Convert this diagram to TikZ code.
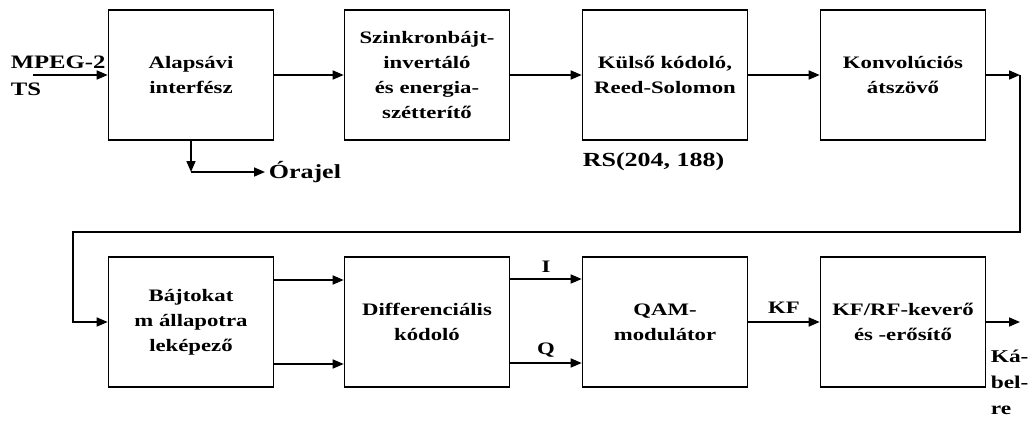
\documentclass[tikz,border=0pt]{standalone}
\usepackage{fontspec}
\setmainfont{Liberation Serif}[FakeStretch=1.3]
\usetikzlibrary{arrows.meta,positioning,calc}

\begin{document}
\begin{tikzpicture}[x=1pt,y=-1pt,line width=1.6pt,
  font=\fontsize{17.5}{25}\selectfont\bfseries,
  blk/.style={draw,minimum width=165pt,minimum height=130pt,align=center,inner sep=2pt},
  lbl/.style={inner sep=0pt,font=\fontsize{20}{25}\selectfont\bfseries},
  arr/.style={-{Triangle[length=11pt,width=9pt]}}]
  \useasboundingbox (0,0) rectangle (1029,421);
  % top row, left to right
  \node[blk] (ifc)  at (191,75)  {Alapsávi\\interfész};
  \node[blk] (inv)  at (427,75)  {Szinkronbájt-\\invertáló\\és energia-\\szétterítő};
  \node[blk] (rs)   at (665,75)  {Külső kódoló,\\Reed-Solomon};
  \node[blk] (ilv)  at (903,75)  {Konvolúciós\\átszövő};
  % bottom row
  \node[blk] (map)  at (191,322) {Bájtokat\\m állapotra\\leképező};
  \node[blk] (diff) at (427,322) {Differenciális\\kódoló};
  \node[blk] (qam)  at (665,322) {QAM-\\modulátor};
  \node[blk] (mix)  at (903,322) {KF/RF-keverő\\és -erősítő};

  % free ends
  \coordinate (in)   at (33,75);
  \coordinate (clk)  at (ifc.south |- 0,172);
  \coordinate (clkr) at (265,172);
  \coordinate (turn) at (1020,75);
  \coordinate (back) at (73,232);
  \coordinate (out)  at (1020,322);

  \node[lbl,anchor=south west,font=\fontsize{19}{25}\selectfont\bfseries] (mpeg) at (10,69) {MPEG-2};
  \node[lbl,anchor=north west,font=\fontsize{19}{25}\selectfont\bfseries] (ts) at (10,82) {TS};
  \node[lbl,anchor=west,inner sep=3pt] (clock) at (clkr) {Órajel};
  \node[lbl,anchor=west] (rsp) at (582,162) {RS(204, 188)};
  \node[anchor=north west,inner sep=0pt,align=left,font=\fontsize{18}{26}\selectfont\bfseries]
    (cable) at (990,349) {Ká-\\bel-\\re};

  % connectors
  \draw[arr] (in) -- (ifc.west);
  \draw[arr] (ifc.south) -- (clk);
  \draw[arr] (clk) -- (clkr);
  \draw[arr] (ifc) -- (inv);
  \draw[arr] (inv) -- (rs);
  \draw[arr] (rs) -- (ilv);
  \draw[arr] (ilv) -- (turn);
  \draw[arr] (turn) |- (back) |- (map.west);
  \draw[arr] ([yshift=42pt]map.east) -- ([yshift=42pt]diff.west);
  \draw[arr] ([yshift=-42pt]map.east) -- ([yshift=-42pt]diff.west);
  \draw[arr] ([yshift=43pt]diff.east) -- node[above=2pt] (ich) {I} ([yshift=43pt]qam.west);
  \draw[arr] ([yshift=-41pt]diff.east) -- node[above=2pt] (qch) {Q} ([yshift=-41pt]qam.west);
  \draw[arr] (qam) -- node[above=4pt] (kf) {KF} (mix);
  \draw[arr] (mix) -- (out);
\end{tikzpicture}
\end{document}
